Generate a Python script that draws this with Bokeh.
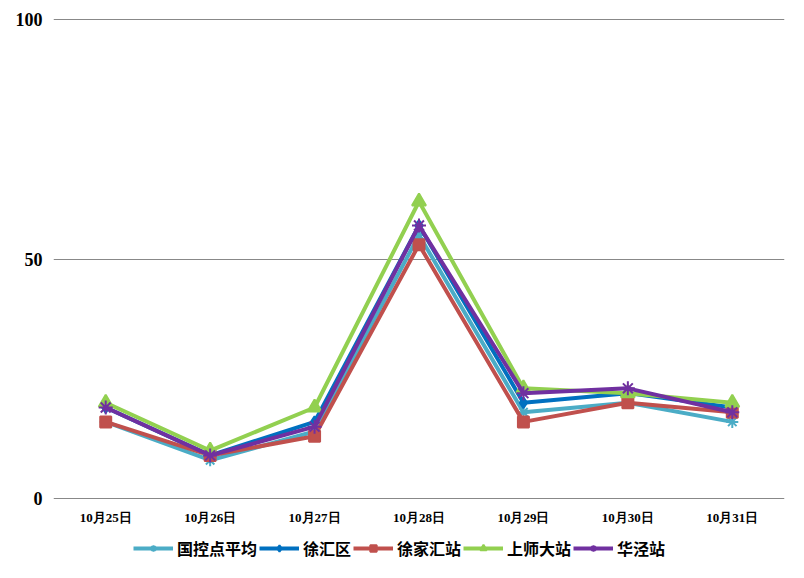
from bokeh.plotting import figure
from bokeh.models import Legend, LegendItem, FixedTicker, Range1d
from bokeh.layouts import column
from bokeh.embed import file_html
from bokeh.resources import INLINE

dates = ["10月25日", "10月26日", "10月27日", "10月28日", "10月29日", "10月30日", "10月31日"]
guokong = [16, 8, 14, 55, 18, 20, 16]
xuhuiqu = [19, 9, 16, 57, 20, 22, 19]
xujiahui = [16, 9, 13, 53, 16, 20, 18]
shangshida = [20, 10, 19, 62, 23, 22, 20]
huajing = [19, 9, 15, 57, 22, 23, 18]
names = ["国控点平均", "徐汇区", "徐家汇站", "上师大站", "华泾站"]
y_ticks = [0, 50, 100]

p = figure(frame_width=731, frame_height=481, x_range=dates, y_range=Range1d(-0.2, 100.2),
           output_backend="svg", toolbar_location=None)
p.min_border_left = 53
p.min_border_right = 20
p.min_border_top = 18
p.min_border_bottom = 33
p.outline_line_color = None
p.background_fill_color = "white"

series = [guokong, xuhuiqu, xujiahui, shangshida, huajing]
colors = ["#4BACC6", "#0070C0", "#C0504D", "#92D050", "#7030A0"]
markers = ["asterisk", "diamond", "square", "triangle", "asterisk"]
sizes = [12, 11, 11, 14, 14]

for vals, c, m, s in zip(series, colors, markers, sizes):
    p.line(dates, vals, line_color=c, line_width=4)
    p.scatter(dates, vals, marker=m, size=s, fill_color=c, line_color=c, line_width=2)

p.xgrid.grid_line_color = None
p.ygrid.grid_line_color = "#888888"
p.ygrid.grid_line_width = 1
p.yaxis.ticker = FixedTicker(ticks=y_ticks)
p.yaxis.axis_line_color = None
p.yaxis.major_tick_line_color = None
p.yaxis.minor_tick_line_color = None
p.yaxis.major_label_text_font = "Liberation Serif"
p.yaxis.major_label_text_font_style = "bold"
p.yaxis.major_label_text_font_size = "18px"
p.yaxis.major_label_text_color = "#000000"
p.yaxis.major_label_standoff = 5

p.xaxis.axis_line_color = None
p.xaxis.major_tick_line_color = None
p.xaxis.minor_tick_line_color = None
p.xaxis.major_label_text_font = "Liberation Serif"
p.xaxis.major_label_text_font_style = "bold"
p.xaxis.major_label_text_font_size = "13px"
p.xaxis.major_label_text_color = "#000000"
p.xaxis.major_label_standoff = 4

# legend strip below the chart
lg = figure(width=804, height=36, x_range=dates, y_range=Range1d(1000, 1001),
            output_backend="svg", toolbar_location=None)
lg.min_border = 0
lg.outline_line_color = None
lg.axis.visible = False
lg.grid.visible = False
items = []
for name, vals, c, m, s in zip(names, series, colors, markers, sizes):
    r1 = lg.line(dates, vals, line_color=c, line_width=4)
    r2 = lg.scatter(dates, vals, marker=m, size=s, fill_color=c, line_color=c, line_width=2)
    items.append(LegendItem(label=name, renderers=[r1, r2]))
legend = Legend(items=items, orientation="horizontal", location=(80, 8),
                label_text_font="Noto Sans CJK SC", label_text_font_style="bold",
                label_text_font_size="16px", label_text_color="#000000",
                glyph_width=40, glyph_height=16, spacing=2, label_standoff=4,
                border_line_color=None, background_fill_alpha=0, padding=0, margin=0)
lg.add_layout(legend, "center")

open("out.html", "w").write(file_html(column(p, lg, spacing=0), INLINE))
